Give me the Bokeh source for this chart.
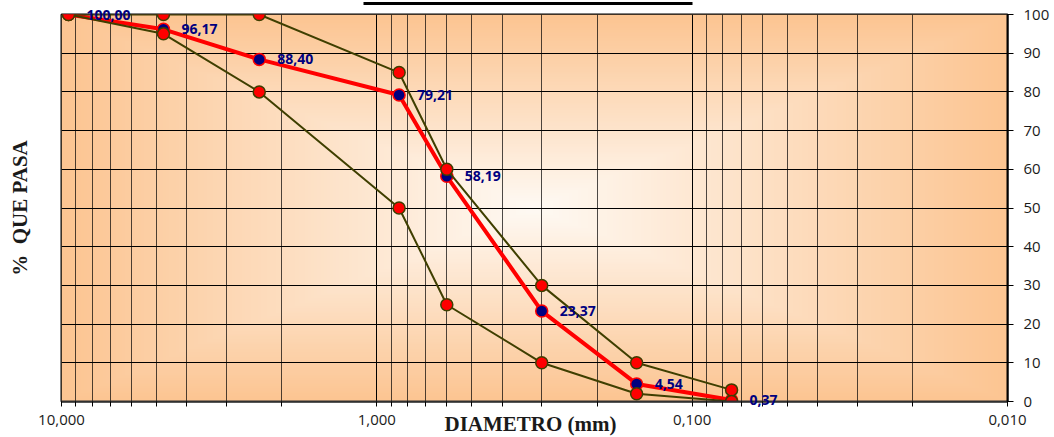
import numpy as np
from bokeh.plotting import figure
from bokeh.layouts import column
from bokeh.models import (Range1d, LinearScale, LinearAxis, FixedTicker,
                          CustomJSTickFormatter, Label, ColumnDataSource, BoxAnnotation)
from bokeh.core.properties import value
from bokeh.embed import file_html
from bokeh.resources import INLINE

# Sieve openings (mm) and percentage passing
sieve_mm = [9.5, 4.75, 2.36, 0.85, 0.6, 0.3, 0.15, 0.075]
pct_passing = [100.00, 96.17, 88.40, 79.21, 58.19, 23.37, 4.54, 0.37]
upper_limit = [100, 100, 100, 85, 60, 30, 10, 3]
lower_limit = [100, 95, 80, 50, 25, 10, 2, 0]

x_major = [10, 1, 0.1, 0.01]
x_minor = [m * 10.0 ** e for e in (-2, -1, 0) for m in range(2, 10)]
y_ticks = list(range(0, 101, 10))

SANS = "Open Sans"
SERIF = "Liberation Serif"
OLIVE = "#3f3f00"
NAVY = "#000080"
INK = "#1a1a1a"

W, H = 1054, 437
BL, BR, BT, BB = 61, 47, 14, 36          # borders around the plot frame
X_LO, X_HI, Y_LO, Y_HI = 10, 0.01, 0, 100

p = figure(width=W, height=H, x_axis_type="log",
           x_range=Range1d(X_LO, X_HI), y_range=Range1d(Y_LO, Y_HI),
           y_axis_location="right", output_backend="svg", toolbar_location=None,
           min_border_left=BL, min_border_right=BR, min_border_top=BT,
           min_border_bottom=BB)
p.background_fill_color = "white"
p.border_fill_color = "white"
p.outline_line_color = "black"
p.outline_line_width = 2

# Soft centre-out gradient behind the grid
p.extra_x_ranges = {"bg": Range1d(0, 1)}
p.extra_x_scales = {"bg": LinearScale()}
nx, ny = 300, 150
U, V = np.meshgrid(np.linspace(-1, 1, nx), np.linspace(-1, 1, ny))
t = np.maximum(np.abs(U), np.abs(V))
center = np.array([255, 250, 244], dtype=float)
edge = np.array([252, 197, 146], dtype=float)
img = np.empty((ny, nx), dtype=np.uint32)
view = img.view(dtype=np.uint8).reshape((ny, nx, 4))
for k in range(3):
    view[:, :, k] = (center[k] + (edge[k] - center[k]) * t).astype(np.uint8)
view[:, :, 3] = 255
p.image_rgba(image=[img], x=0, y=0, dw=1, dh=100, x_range_name="bg", level="image")

# Grid
p.xgrid.ticker = FixedTicker(ticks=x_major, minor_ticks=x_minor)
p.xgrid.grid_line_color = "black"
p.xgrid.minor_grid_line_color = "black"
p.xgrid.minor_grid_line_alpha = 0.7
p.ygrid.ticker = FixedTicker(ticks=y_ticks)
p.ygrid.grid_line_color = "black"

# Axes
xa = p.xaxis[0]
xa.ticker = FixedTicker(ticks=x_major, minor_ticks=x_minor)
xa.formatter = CustomJSTickFormatter(code="return tick.toFixed(3).replace('.', ',');")
xa.axis_line_color = "#303030"
xa.axis_line_width = 2
xa.major_tick_out = 5
xa.major_tick_in = 0
xa.minor_tick_out = 5
xa.minor_tick_in = 0
xa.major_tick_line_color = "black"
xa.minor_tick_line_color = "black"
xa.major_label_standoff = 8
xa.major_label_text_font = SANS
xa.major_label_text_font_size = "15px"
xa.major_label_text_color = INK

ya = p.yaxis[0]
ya.ticker = FixedTicker(ticks=y_ticks)
ya.axis_line_color = "black"
ya.axis_line_width = 2
ya.major_tick_out = 6
ya.major_tick_in = 0
ya.minor_tick_line_color = None
ya.major_tick_line_color = "black"
ya.major_label_standoff = 10
ya.major_label_text_font = SANS
ya.major_label_text_font_size = "15px"
ya.major_label_text_color = INK

# Left side carries only the vertical title
ytitle = LinearAxis(ticker=FixedTicker(ticks=[]), axis_label="%\u00a0 QUE PASA",
                    axis_line_color=None, major_tick_line_color=None,
                    minor_tick_line_color=None, major_tick_out=0, major_tick_in=0,
                    minor_tick_out=0, minor_tick_in=0, major_label_standoff=0,
                    axis_label_standoff=30, axis_label_text_font=SERIF,
                    axis_label_text_font_size="21px", axis_label_text_font_style="bold",
                    axis_label_text_color=INK)
p.add_layout(ytitle, "left")

src = ColumnDataSource(dict(
    d=sieve_mm, g=pct_passing, up=upper_limit, lo=lower_limit,
    lbl=[f"{v:.2f}".replace(".", ",") for v in pct_passing],
))

# Grading curve of the sample
p.line("d", "g", source=src, line_color="red", line_width=4)
p.scatter("d", "g", source=src, size=12, fill_color=NAVY,
          line_color="red", line_width=1.5)

# Specification envelope
for col in ("up", "lo"):
    p.line("d", col, source=src, line_color=OLIVE, line_width=2)
    p.scatter("d", col, source=src, size=12, fill_color="red",
              line_color=OLIVE, line_width=1.5)

# Transparent text layer over the plot: same x mapping, full canvas height
fh = H - BT - BB
unit_px = fh / (Y_HI - Y_LO)
q = figure(width=W, height=H, x_axis_type="log",
           x_range=Range1d(X_LO, X_HI),
           y_range=Range1d(Y_LO - BB / unit_px, Y_HI + BT / unit_px),
           x_axis_location=None, y_axis_location=None,
           min_border_left=BL, min_border_right=BR, min_border_top=0,
           min_border_bottom=0, output_backend="svg", toolbar_location=None)
q.grid.visible = False
q.outline_line_color = None
q.background_fill_color = None
q.border_fill_color = None
q.styles = {"margin-top": f"-{H}px"}

# Value labels of the grading curve
q.text(x="d", y="g", text="lbl", source=src, x_offset=18, text_baseline="middle",
       text_align="left", text_font=value(SANS), text_font_size="14px",
       text_font_style="bold", text_color=NAVY)

# X title
q.add_layout(Label(x=530 - BL, y=H - 423, x_units="screen", y_units="screen",
                   text="DIAMETRO (mm)", text_align="center", text_baseline="middle",
                   text_font=SERIF, text_font_size="21px", text_font_style="bold",
                   text_color=INK))

# Chart title with underline
q.add_layout(Label(x=527 - BL, y=H + 8.5, x_units="screen", y_units="screen",
                   text="CURVA GRANULOMETRICA", text_align="center",
                   text_baseline="alphabetic", text_font=SERIF, text_font_size="24px",
                   text_font_style="bold", text_color="black"))
q.add_layout(BoxAnnotation(left=363 - BL, right=692 - BL, bottom=H - 4.5, top=H - 1.5,
                           left_units="screen", right_units="screen",
                           bottom_units="screen", top_units="screen",
                           fill_color="black", fill_alpha=1, line_color=None))

layout = column(p, q)
open("out.html", "w").write(file_html(layout, INLINE))
